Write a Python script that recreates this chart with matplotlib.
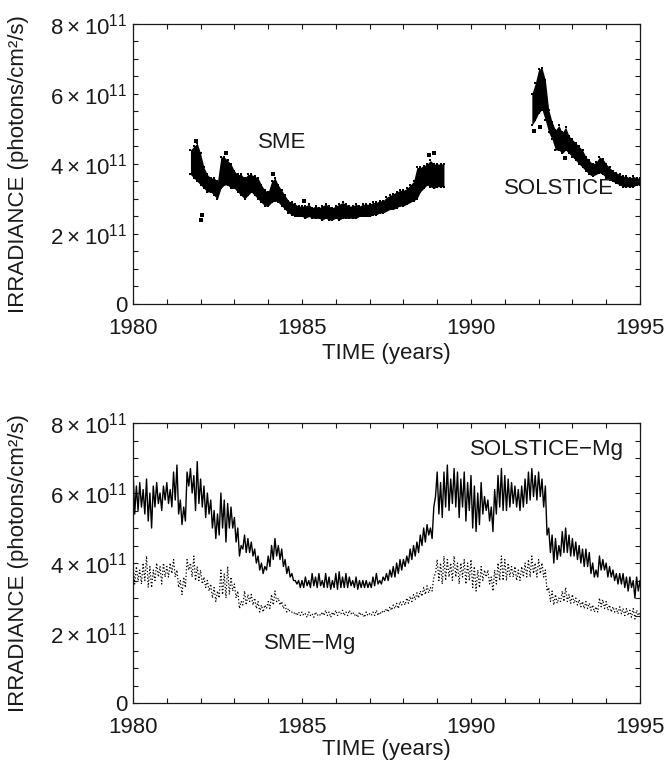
import numpy as np
import matplotlib
matplotlib.use("Agg")
import matplotlib.pyplot as plt
from matplotlib.ticker import MultipleLocator, FuncFormatter

plt.rcParams['font.family'] = ['Liberation Sans', 'DejaVu Sans']
plt.rcParams['mathtext.default'] = 'regular'

# ---- top panel: daily measurements, given as low/high edge of the point cloud (units of 1e11)
sme_time = np.round(np.arange(1981.7, 1989.25, 0.1), 2)
sme_lo = [3.7, 3.6, 3.5, 3.4, 3.3, 3.2, 3.2, 3.1, 3.0, 3.3,
          3.4, 3.4, 3.3, 3.3, 3.2, 3.1, 3.0, 3.1, 3.2, 3.1,
          3.0, 2.9, 2.8, 2.8, 2.9, 2.95, 2.9, 2.8, 2.7, 2.6,
          2.55, 2.5, 2.5, 2.5, 2.45, 2.5, 2.45, 2.45, 2.45, 2.4,
          2.45, 2.4, 2.4, 2.45, 2.4, 2.45, 2.45, 2.45, 2.45, 2.45,
          2.5, 2.5, 2.5, 2.5, 2.55, 2.55, 2.6, 2.6, 2.65, 2.7,
          2.7, 2.75, 2.8, 2.8, 2.85, 2.9, 2.95, 3.0, 3.2, 3.3,
          3.4, 3.35, 3.3, 3.35, 3.35, 3.35]
sme_hi = [4.4, 4.5, 4.6, 4.3, 3.9, 3.7, 3.6, 3.6, 3.5, 4.2,
          4.2, 4.1, 4.0, 3.8, 3.7, 3.7, 3.6, 3.7, 3.7, 3.65,
          3.6, 3.4, 3.25, 3.2, 3.5, 3.6, 3.4, 3.25, 3.1, 2.95,
          2.9, 2.85, 2.8, 2.8, 2.8, 2.85, 2.75, 2.8, 2.75, 2.8,
          2.85, 2.8, 2.75, 2.8, 2.85, 2.9, 2.85, 2.8, 2.8, 2.85,
          2.8, 2.85, 2.85, 2.85, 2.9, 2.9, 2.95, 2.95, 3.05, 3.1,
          3.15, 3.2, 3.25, 3.25, 3.3, 3.4, 3.5, 3.9, 3.9, 3.95,
          4.0, 4.1, 4.0, 4.0, 4.0, 4.0]

sol_time = np.round(np.arange(1991.8, 1995.05, 0.1), 2)
sol_lo = [5.1, 5.25, 5.45, 5.55, 5.25, 4.9, 4.7, 4.4, 4.4, 4.3,
          4.4, 4.3, 4.2, 4.1, 4.0, 3.9, 3.8, 3.7, 3.65, 3.7,
          3.75, 3.7, 3.6, 3.55, 3.5, 3.45, 3.4, 3.35, 3.35, 3.35,
          3.35, 3.4, 3.4]
sol_hi = [6.0, 6.3, 6.7, 6.75, 6.4, 5.55, 5.2, 4.97, 5.1, 4.9,
          5.05, 4.8, 4.7, 4.6, 4.5, 4.4, 4.2, 4.1, 4.0, 4.05,
          4.2, 4.15, 4.0, 3.9, 3.8, 3.75, 3.7, 3.65, 3.65, 3.6,
          3.65, 3.6, 3.6]

# isolated points outside the clouds
stray_time = [1982.02, 1982.03, 1988.75, 1988.9, 1984.15, 1992.78, 1985.05,
              1981.85, 1982.75, 1988.6, 1992.05, 1991.85]
stray_val = [2.4, 2.55, 4.25, 4.3, 3.7, 4.17, 2.95,
             4.65, 4.3, 3.85, 5.05, 4.95]

# ---- bottom panel: Mg-index proxies, 0.05 year steps from 1980.0 (units of 1e11)
proxy_start = 1980.0
proxy_step = 0.05
solstice_mg = [
    6.7, 5.4, 6.2, 5.5, 6.3, 5.6, 6.1, 5.4, 6.4, 5.2,
    6.0, 5.0, 6.2, 5.6, 6.3, 5.7, 6.0, 5.5, 6.2, 5.8,
    6.3, 5.7, 6.1, 5.6, 6.6, 5.8, 6.8, 5.4, 5.8, 5.1,
    5.6, 5.2, 6.6, 6.2, 6.7, 6.0, 6.5, 5.5, 6.9, 5.7,
    6.4, 5.6, 6.2, 5.3, 6.0, 5.4, 5.8, 5.0, 5.5, 4.7,
    5.4, 4.8, 6.0, 5.0, 5.8, 4.6, 5.7, 5.0, 5.6, 5.0,
    5.3, 4.6, 5.0, 4.2, 4.5, 4.4, 4.8, 4.3, 4.7, 4.3,
    4.6, 4.2, 4.4, 4.0, 4.2, 3.8, 4.0, 3.7, 3.9, 3.8,
    4.2, 3.9, 4.5, 4.1, 4.7, 4.2, 4.5, 4.1, 4.4, 3.9,
    4.1, 3.7, 3.9, 3.6, 3.7, 3.5, 3.5, 3.4, 3.5, 3.3,
    3.5, 3.3, 3.6, 3.35, 3.5, 3.3, 3.7, 3.35, 3.6, 3.3,
    3.7, 3.35, 3.5, 3.3, 3.7, 3.3, 3.6, 3.25, 3.5, 3.3,
    3.7, 3.25, 3.75, 3.3, 3.6, 3.3, 3.7, 3.3, 3.6, 3.35,
    3.5, 3.3, 3.6, 3.25, 3.5, 3.3, 3.5, 3.3, 3.5, 3.3,
    3.45, 3.3, 3.6, 3.35, 3.7, 3.4, 3.5, 3.4, 3.6, 3.5,
    3.7, 3.5, 3.8, 3.6, 3.9, 3.6, 4.0, 3.7, 4.1, 3.8,
    4.1, 3.9, 4.2, 4.0, 4.4, 4.1, 4.5, 4.2, 4.6, 4.3,
    4.8, 4.5, 5.0, 4.6, 5.1, 4.8, 5.0, 4.7, 5.6, 5.9,
    6.6, 5.4, 6.3, 5.3, 6.6, 5.6, 6.8, 5.5, 6.4, 5.7,
    6.7, 5.6, 6.6, 5.3, 6.4, 5.6, 6.6, 5.2, 6.3, 5.5,
    6.5, 5.0, 6.2, 4.9, 6.0, 5.1, 6.3, 5.4, 5.9, 5.5,
    5.8, 5.2, 5.6, 4.9, 6.1, 5.4, 6.5, 5.6, 6.7, 5.5,
    6.5, 5.5, 6.4, 5.6, 6.3, 5.7, 6.2, 5.6, 6.1, 5.5,
    6.2, 5.6, 6.4, 5.7, 6.6, 5.8, 6.7, 5.9, 6.5, 5.8,
    6.6, 5.9, 6.4, 5.6, 6.2, 4.8, 5.0, 4.3, 4.8, 4.0,
    4.7, 4.1, 4.5, 4.2, 4.9, 4.3, 5.0, 4.3, 4.8, 4.2,
    4.7, 4.2, 4.6, 4.1, 4.5, 4.0, 4.4, 3.9, 4.4, 3.9,
    4.3, 3.7, 4.0, 3.6, 3.8, 3.6, 4.2, 3.8, 4.1, 3.8,
    4.0, 3.6, 3.9, 3.6, 3.8, 3.5, 3.7, 3.4, 3.7, 3.4,
    3.7, 3.3, 3.6, 3.2, 3.6, 3.3, 3.5, 3.0, 3.6, 3.2,
    3.5]
sme_mg = [
    4.0, 3.4, 3.9, 3.5, 3.8, 3.4, 4.0, 3.5, 4.2, 3.3,
    3.9, 3.3, 3.8, 3.5, 4.0, 3.6, 3.9, 3.4, 4.0, 3.6,
    3.9, 3.6, 4.0, 3.7, 4.1, 3.6, 3.8, 3.3, 3.5, 3.1,
    3.6, 3.3, 4.1, 3.8, 4.0, 3.6, 4.2, 3.5, 3.9, 3.5,
    3.8, 3.4, 3.6, 3.3, 3.5, 3.2, 3.4, 3.0, 3.3, 2.9,
    3.2, 3.0, 3.8, 3.1, 3.7, 3.0, 3.9, 3.1, 3.6, 3.2,
    3.4, 3.0, 3.2, 2.7, 2.9, 2.8, 3.2, 2.8, 3.1, 2.9,
    3.1, 2.8, 3.0, 2.7, 2.9, 2.6, 2.8, 2.6, 2.8, 2.7,
    2.9, 2.7, 3.1, 2.8, 3.2, 2.9, 3.0, 2.8, 2.9, 2.7,
    2.8, 2.6, 2.7, 2.6, 2.6, 2.55, 2.6, 2.5, 2.6, 2.5,
    2.6, 2.5, 2.55, 2.45, 2.6, 2.5, 2.55, 2.45, 2.6, 2.5,
    2.55, 2.5, 2.6, 2.5, 2.65, 2.5, 2.6, 2.45, 2.6, 2.5,
    2.65, 2.5, 2.6, 2.55, 2.65, 2.5, 2.6, 2.5, 2.65, 2.55,
    2.6, 2.5, 2.55, 2.45, 2.6, 2.5, 2.55, 2.45, 2.6, 2.5,
    2.55, 2.5, 2.6, 2.5, 2.65, 2.5, 2.6, 2.55, 2.65, 2.6,
    2.7, 2.6, 2.75, 2.65, 2.8, 2.7, 2.85, 2.7, 2.9, 2.8,
    2.9, 2.8, 3.0, 2.85, 3.05, 2.9, 3.1, 2.95, 3.15, 3.0,
    3.2, 3.05, 3.3, 3.1, 3.35, 3.15, 3.3, 3.2, 3.6, 3.7,
    4.1, 3.5, 4.0, 3.4, 4.2, 3.5, 4.1, 3.6, 4.0, 3.5,
    4.2, 3.6, 4.0, 3.4, 4.0, 3.6, 4.1, 3.4, 4.0, 3.5,
    4.1, 3.3, 3.9, 3.2, 3.8, 3.3, 3.9, 3.5, 3.8, 3.6,
    3.8, 3.4, 3.6, 3.2, 3.8, 3.4, 4.0, 3.5, 4.2, 3.5,
    4.1, 3.5, 4.0, 3.6, 3.9, 3.6, 3.9, 3.5, 3.8, 3.5,
    3.9, 3.6, 4.0, 3.6, 4.1, 3.6, 4.2, 3.7, 4.0, 3.6,
    4.1, 3.7, 4.0, 3.6, 3.8, 3.2, 3.3, 2.9, 3.2, 2.8,
    3.1, 2.85, 3.0, 2.9, 3.2, 2.9, 3.3, 2.9, 3.1, 2.85,
    3.1, 2.85, 3.0, 2.8, 2.95, 2.75, 2.9, 2.7, 2.9, 2.7,
    2.85, 2.65, 2.8, 2.6, 2.75, 2.6, 3.0, 2.75, 2.95, 2.7,
    2.9, 2.65, 2.8, 2.6, 2.75, 2.6, 2.7, 2.55, 2.75, 2.55,
    2.7, 2.5, 2.7, 2.5, 2.65, 2.45, 2.7, 2.4, 2.65, 2.5,
    2.6]
proxy_time = proxy_start + proxy_step * np.arange(len(solstice_mg))

SCALE = 1e11
FS = 16
INK = '#1a1a1a'


def irr_label(v, pos):
    n = int(round(v / SCALE))
    if n == 0:
        return '0'
    return r'$%d\times10^{11}$' % n


def style_axes(ax, xlabel_y):
    ax.set_xlim(1980, 1995)
    ax.set_ylim(0, 8 * SCALE)
    ax.xaxis.set_major_locator(MultipleLocator(5))
    ax.xaxis.set_minor_locator(MultipleLocator(1))
    ax.yaxis.set_major_locator(MultipleLocator(2 * SCALE))
    ax.yaxis.set_minor_locator(MultipleLocator(0.5 * SCALE))
    ax.yaxis.set_major_formatter(FuncFormatter(irr_label))
    ax.tick_params(which='both', direction='in', top=True, right=True,
                   length=3.8, width=0.8, color=INK)
    ax.tick_params(axis='x', which='major', pad=10, labelsize=FS,
                   labelcolor=INK)
    ax.tick_params(axis='y', which='major', pad=4, labelsize=FS,
                   labelcolor=INK)
    for sp in ax.spines.values():
        sp.set_linewidth(0.9)
        sp.set_color(INK)
    ax.set_xlabel('TIME (years)', fontsize=FS, color=INK)
    ax.xaxis.set_label_coords(0.5, xlabel_y)
    ax.set_ylabel('IRRADIANCE (photons/cm²/s)', fontsize=FS, color=INK)
    ax.yaxis.set_label_coords(-0.205, 0.5)


fig = plt.figure(figsize=(6.67, 7.64), dpi=100)
ax1 = fig.add_axes([0.1994, 0.6021, 0.7601, 0.3665])
ax2 = fig.add_axes([0.1994, 0.0798, 0.7601, 0.3665])

# top panel: point clouds drawn as filled bands with ragged edges
for t, lo, hi in [(sme_time, sme_lo, sme_hi), (sol_time, sol_lo, sol_hi)]:
    lo = np.array(lo) * SCALE
    hi = np.array(hi) * SCALE
    ax1.fill_between(t, lo, hi, color='black', lw=0)
    ax1.plot(t, lo, ls='none', marker='s', ms=1.8, color='black', mew=0)
    ax1.plot(t, hi, ls='none', marker='s', ms=1.8, color='black', mew=0)
ax1.scatter(stray_time, np.array(stray_val) * SCALE, s=5, marker='s',
            color='black', linewidths=0)
ax1.text(1984.4, 4.6 * SCALE, 'SME', fontsize=FS, ha='center', va='center',
         color=INK)
ax1.text(1992.6, 3.3 * SCALE, 'SOLSTICE', fontsize=FS, ha='center',
         va='center', color=INK)
style_axes(ax1, -0.14)

# bottom panel
ax2.plot(proxy_time, np.array(solstice_mg) * SCALE, color='black', lw=1.0)
ax2.plot(proxy_time, np.array(sme_mg) * SCALE, color='black', lw=0.9,
         linestyle=':')
ax2.text(1992.25, 7.23 * SCALE, 'SOLSTICE\u2212Mg', fontsize=FS,
         ha='center', va='center', color=INK)
ax2.text(1985.25, 1.71 * SCALE, 'SME\u2212Mg', fontsize=FS,
         ha='center', va='center', color=INK)
style_axes(ax2, -0.13)

fig.savefig('out.png', dpi=100)
